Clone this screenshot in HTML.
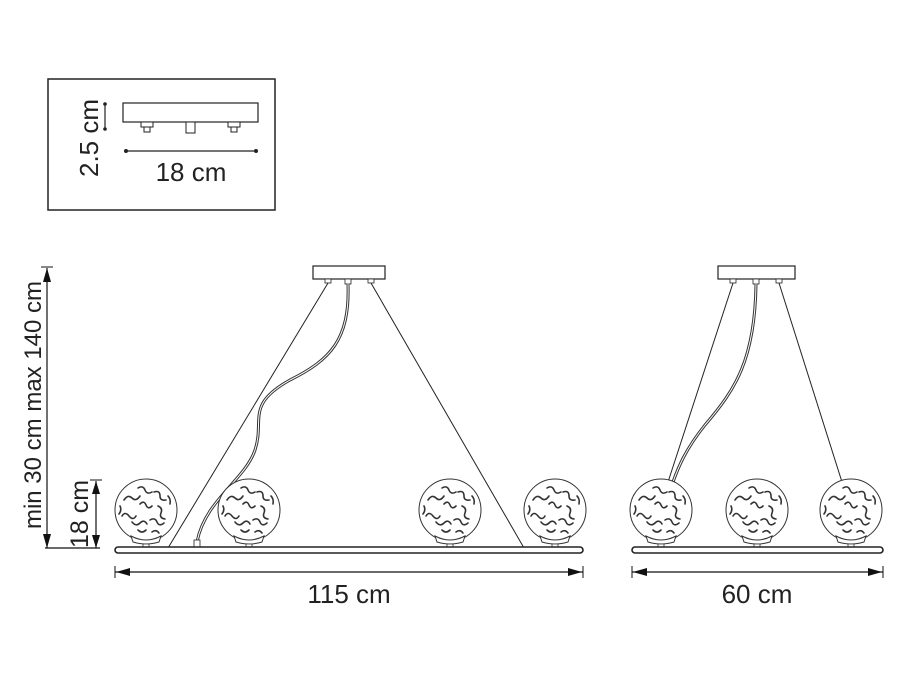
<!DOCTYPE html>
<html><head><meta charset="utf-8"><style>
html,body{margin:0;padding:0;background:#fff;}
svg{display:block;}
text{font-family:"Liberation Sans",sans-serif;fill:#222;}
</style></head><body>
<svg width="900" height="675" viewBox="0 0 900 675" xmlns="http://www.w3.org/2000/svg">
<defs>
<g id="globe">
<circle cx="0" cy="0" r="31" fill="#fff" stroke="#333" stroke-width="1"/>
<g fill="none" stroke="#333" stroke-width="1.6" stroke-linecap="round">
<path d="M-22,-10 q4,-6 8,-2 q4,4 8,-2"/>
<path d="M-8,-22 q5,-3 7,2 q2,5 7,2"/>
<path d="M8,-18 q6,-2 6,4 q0,5 6,4"/>
<path d="M-24,6 q3,-5 7,0 q4,5 7,0"/>
<path d="M-6,-6 q4,-4 6,1 q2,5 6,1"/>
<path d="M12,-4 q5,2 3,7 q-2,5 4,6"/>
<path d="M-14,12 q4,5 8,1 q4,-4 7,1"/>
<path d="M4,10 q5,-3 7,2 q2,5 7,1"/>
<path d="M-8,20 q4,4 8,0"/>
<path d="M6,22 q4,-3 7,1"/>
<path d="M-26,-4 q2,4 -1,8"/>
<path d="M22,-14 q3,3 2,8"/>
</g>
<path d="M-15,26 Q0,34 15,26 L13,32 Q0,36 -13,32 Z" fill="#fff" stroke="#333" stroke-width="1"/>
<rect x="-3" y="34" width="6" height="4" fill="#fff" stroke="#333" stroke-width="0.8"/>
</g>
</defs>

<!-- inset -->
<rect x="48" y="79" width="227" height="131" fill="none" stroke="#222" stroke-width="1.5"/>
<rect x="123" y="103" width="135" height="19" fill="#fff" stroke="#222" stroke-width="1.2"/>
<rect x="141" y="122" width="12" height="5" fill="#fff" stroke="#222" stroke-width="1"/>
<rect x="144" y="127" width="6" height="5" fill="#fff" stroke="#222" stroke-width="1"/>
<rect x="186" y="122" width="9" height="11" fill="#fff" stroke="#222" stroke-width="1"/>
<rect x="228" y="122" width="12" height="5" fill="#fff" stroke="#222" stroke-width="1"/>
<rect x="231" y="127" width="6" height="5" fill="#fff" stroke="#222" stroke-width="1"/>
<line x1="105" y1="104" x2="105" y2="129" stroke="#222" stroke-width="1.2"/>
<circle cx="105" cy="104" r="1.8" fill="#222"/><circle cx="105" cy="129" r="1.8" fill="#222"/>
<line x1="126" y1="151" x2="256" y2="151" stroke="#222" stroke-width="1.2"/>
<circle cx="126" cy="151" r="2" fill="#222"/><circle cx="256" cy="151" r="2" fill="#222"/>
<text x="191" y="181" font-size="26" text-anchor="middle">18 cm</text>
<text transform="translate(98,138) rotate(-90)" font-size="26" text-anchor="middle">2.5 cm</text>

<!-- left vertical dims -->
<line x1="47" y1="268" x2="47" y2="548" stroke="#111" stroke-width="1.2"/>
<path d="M43,282 L47,268 L51,282 Z" fill="#111"/>
<path d="M43,534 L47,548 L51,534 Z" fill="#111"/>
<line x1="41" y1="267" x2="53" y2="267" stroke="#111"/>
<line x1="45" y1="548" x2="100" y2="548" stroke="#111" stroke-width="1.2"/>
<line x1="96" y1="481" x2="96" y2="548" stroke="#111" stroke-width="1.2"/>
<path d="M92,494 L96,481 L100,494 Z" fill="#111"/>
<path d="M92,535 L96,548 L100,535 Z" fill="#111"/>
<line x1="90" y1="480" x2="102" y2="480" stroke="#111"/>
<text transform="translate(41,405) rotate(-90)" font-size="24" text-anchor="middle">min 30 cm max 140 cm</text>
<text transform="translate(88,514) rotate(-90)" font-size="25" text-anchor="middle">18 cm</text>

<!-- front view -->
<rect x="313" y="266" width="72" height="13" fill="#fff" stroke="#222" stroke-width="1.2"/>
<rect x="325" y="279" width="6" height="4" fill="#fff" stroke="#222" stroke-width="0.8"/>
<rect x="345" y="279" width="6" height="5" fill="#fff" stroke="#222" stroke-width="0.8"/>
<rect x="368" y="279" width="6" height="4" fill="#fff" stroke="#222" stroke-width="0.8"/>
<line x1="328" y1="283" x2="168" y2="548" stroke="#222" stroke-width="1"/>
<line x1="371" y1="283" x2="524" y2="548" stroke="#222" stroke-width="1"/>
<path d="M348,284 C350,340 330,360 290,380 C245,405 265,420 255,450 C245,480 205,500 197,542" fill="none" stroke="#333" stroke-width="3"/>
<path d="M348,284 C350,340 330,360 290,380 C245,405 265,420 255,450 C245,480 205,500 197,542" fill="none" stroke="#fff" stroke-width="1"/>
<rect x="194" y="540" width="6" height="7" fill="#fff" stroke="#222" stroke-width="0.8"/>
<use href="#globe" x="146" y="510"/>
<use href="#globe" x="249" y="510"/>
<use href="#globe" x="450" y="510"/>
<use href="#globe" x="555" y="510"/>
<rect x="115" y="547" width="468" height="6" rx="3" fill="#fff" stroke="#222" stroke-width="1.6"/>
<line x1="115" y1="572" x2="583" y2="572" stroke="#111" stroke-width="1.2"/>
<path d="M116,572 L130,568 L130,576 Z" fill="#111"/>
<path d="M582,572 L568,568 L568,576 Z" fill="#111"/>
<line x1="115" y1="566" x2="115" y2="578" stroke="#111"/>
<line x1="583" y1="566" x2="583" y2="578" stroke="#111"/>
<text x="349" y="603" font-size="26" text-anchor="middle">115 cm</text>

<!-- side view -->
<rect x="718" y="266" width="77" height="13" fill="#fff" stroke="#222" stroke-width="1.2"/>
<rect x="730" y="279" width="6" height="4" fill="#fff" stroke="#222" stroke-width="0.8"/>
<rect x="753" y="279" width="6" height="5" fill="#fff" stroke="#222" stroke-width="0.8"/>
<rect x="776" y="279" width="6" height="4" fill="#fff" stroke="#222" stroke-width="0.8"/>
<line x1="733" y1="283" x2="668" y2="482" stroke="#222" stroke-width="1"/>
<line x1="779" y1="283" x2="842" y2="482" stroke="#222" stroke-width="1"/>
<path d="M756,284 C755,360 735,390 705,425 C685,450 678,468 673,482" fill="none" stroke="#333" stroke-width="3"/>
<path d="M756,284 C755,360 735,390 705,425 C685,450 678,468 673,482" fill="none" stroke="#fff" stroke-width="1"/>
<use href="#globe" x="661" y="510"/>
<use href="#globe" x="757" y="510"/>
<use href="#globe" x="851" y="510"/>
<rect x="632" y="547" width="251" height="6" rx="3" fill="#fff" stroke="#222" stroke-width="1.6"/>
<line x1="632" y1="572" x2="883" y2="572" stroke="#111" stroke-width="1.2"/>
<path d="M633,572 L647,568 L647,576 Z" fill="#111"/>
<path d="M882,572 L868,568 L868,576 Z" fill="#111"/>
<line x1="632" y1="566" x2="632" y2="578" stroke="#111"/>
<line x1="883" y1="566" x2="883" y2="578" stroke="#111"/>
<text x="757" y="603" font-size="26" text-anchor="middle">60 cm</text>
</svg>
</body></html>
